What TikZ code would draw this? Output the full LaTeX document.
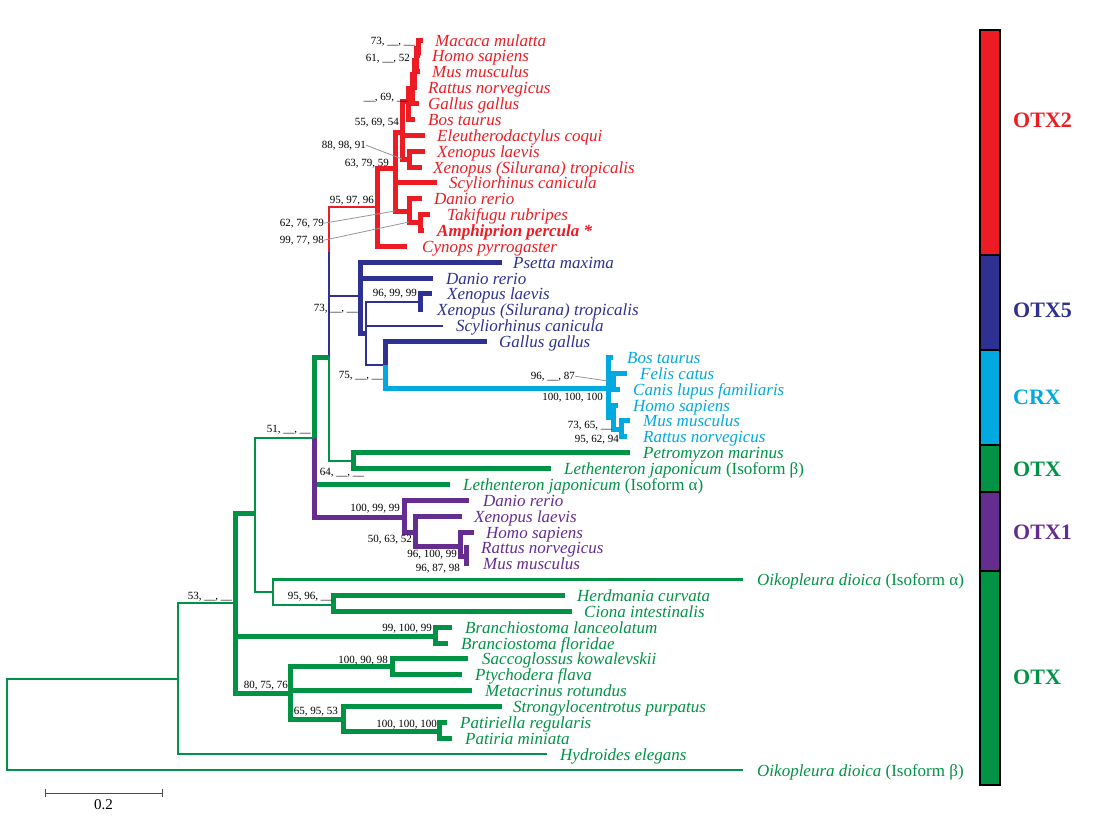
\documentclass[tikz,border=0pt]{standalone}
\usepackage{fontspec}
\setmainfont{Liberation Serif}
\definecolor{otxred}{RGB}{237,28,36}
\definecolor{otxblue}{RGB}{46,49,146}
\definecolor{crxcyan}{RGB}{0,169,224}
\definecolor{otxgreen}{RGB}{0,146,69}
\definecolor{otxpurple}{RGB}{102,45,145}
\definecolor{leadergray}{RGB}{150,150,150}
\tikzset{
  twig/.style={line width=2.4pt},
  bough/.style={line width=5pt},
  leaf/.style={anchor=base west, inner sep=0pt, font=\fontsize{17}{17}\selectfont\itshape},
  boot/.style={anchor=base east, inner sep=0pt, font=\fontsize{11}{11}\selectfont, black},
  leader/.style={leadergray, line width=0.8pt},
  grouplabel/.style={anchor=west, inner sep=0pt, font=\fontsize{22}{22}\selectfont\bfseries},
  groupbox/.style={draw=black, line width=2.5pt},
}

\begin{document}
\begin{tikzpicture}[x=1pt,y=-1pt]
  \useasboundingbox (0,0) rectangle (1115,827);

  % OTX2 (red)
  \coordinate (t-mac) at (423,40);
  \coordinate (t-hom) at (420,55.9);
  \coordinate (t-mus) at (420,71.7);
  \coordinate (t-rat) at (417,87.6);
  \coordinate (t-gal) at (419,103.5);
  \coordinate (t-bos) at (415,119.4);
  \coordinate (t-ele) at (425,135.2);
  \coordinate (t-xla) at (425,151.1);
  \coordinate (t-xtr) at (422,167);
  \coordinate (t-scy) at (437,182.8);
  \coordinate (t-dan) at (422,198.7);
  \coordinate (t-tak) at (430,214.6);
  \coordinate (t-amp) at (424,230.4);
  \coordinate (t-cyn) at (407,246.3);
  \coordinate (pm1) at (418,48);
  \coordinate (pm2) at (416,60);
  \coordinate (pm3) at (414,74);
  \coordinate (pm4) at (412,88);
  \coordinate (pm5) at (408,101);
  \coordinate (xen) at (409,159);
  \coordinate (tetra) at (402,132);
  \coordinate (fishA) at (420,222);
  \coordinate (fishB) at (409,211);
  \coordinate (gnath) at (395,168);
  \coordinate (r0) at (377,207);

  \draw [bough, otxred]
    (pm1) |- (t-mac) (pm1) |- (t-hom)
    (pm2) |- (pm1) (pm2) |- (t-mus)
    (pm3) |- (pm2) (pm3) |- (t-rat)
    (pm4) |- (pm3) (pm4) |- (t-gal)
    (pm5) |- (pm4) (pm5) |- (t-bos)
    (xen) |- (t-xla) (xen) |- (t-xtr)
    (tetra) |- (pm5) (tetra) |- (t-ele) (tetra) |- (xen)
    (fishA) |- (t-tak) (fishA) |- (t-amp)
    (fishB) |- (t-dan) (fishB) |- (fishA)
    (gnath) |- (tetra) (gnath) |- (t-scy) (gnath) |- (fishB)
    (r0) |- (gnath) (r0) |- (t-cyn);

  \node [leaf, otxred] (l-mac) at (435,46) {Macaca mulatta};
  \node [leaf, otxred] (l-hom) at (432,61.9) {Homo sapiens};
  \node [leaf, otxred] (l-mus) at (432,77.7) {Mus musculus};
  \node [leaf, otxred] (l-rat) at (428,93.6) {Rattus norvegicus};
  \node [leaf, otxred] (l-gal) at (428,109.5) {Gallus gallus};
  \node [leaf, otxred] (l-bos) at (428,125.4) {Bos taurus};
  \node [leaf, otxred] (l-ele) at (437,141.2) {Eleutherodactylus coqui};
  \node [leaf, otxred] (l-xla) at (437,157.1) {Xenopus laevis};
  \node [leaf, otxred] (l-xtr) at (433,173) {Xenopus (Silurana) tropicalis};
  \node [leaf, otxred] (l-scy) at (449,188.8) {Scyliorhinus canicula};
  \node [leaf, otxred] (l-dan) at (434,204.7) {Danio rerio};
  \node [leaf, otxred] (l-tak) at (447,220.6) {Takifugu rubripes};
  \node [leaf, otxred] (l-amp) at (437,236.4) {\bfseries Amphiprion percula *};
  \node [leaf, otxred] (l-cyn) at (422,252.3) {Cynops pyrrogaster};

  % OTX5 (blue)
  \coordinate (t-pse) at (502,262.2);
  \coordinate (t-bda) at (433,278.1);
  \coordinate (t-bxl) at (432,293.9);
  \coordinate (t-bxt) at (423,309.8);
  \coordinate (t-bsc) at (443,325.7);
  \coordinate (t-bga) at (487,341.5);
  \coordinate (n1) at (329,357);
  \coordinate (n1s) at (329,252);
  \coordinate (v1) at (360,296);
  \coordinate (v2) at (366,333);
  \coordinate (bx) at (420,302);
  \coordinate (gc) at (385,365);

  \draw [twig, otxred] (n1s) |- (r0);
  \draw [twig, otxblue] (n1s) -- (n1) (n1) |- (v1)
    (v2) |- (bx) (v2) |- (t-bsc) (v2) |- (gc);
  \draw [bough, otxblue] (v1) |- (t-pse) (v1) |- (t-bda) (v1) |- (v2)
    (bx) |- (t-bxl) (bx) |- (t-bxt) (gc) |- (t-bga);

  \node [leaf, otxblue] (l-pse) at (513,268.2) {Psetta maxima};
  \node [leaf, otxblue] (l-bda) at (446,284.1) {Danio rerio};
  \node [leaf, otxblue] (l-bxl) at (447,299.9) {Xenopus laevis};
  \node [leaf, otxblue] (l-bxt) at (437,315.8) {Xenopus (Silurana) tropicalis};
  \node [leaf, otxblue] (l-bsc) at (456,331.7) {Scyliorhinus canicula};
  \node [leaf, otxblue] (l-bga) at (499,347.5) {Gallus gallus};

  % CRX (cyan)
  \coordinate (t-cbo) at (613,357.4);
  \coordinate (t-cfe) at (627,373.3);
  \coordinate (t-cca) at (620,389.1);
  \coordinate (t-cho) at (618,405);
  \coordinate (t-cmu) at (630,420.9);
  \coordinate (t-cra) at (627,436.8);
  \coordinate (c1) at (608,388);
  \coordinate (c2) at (613,381);
  \coordinate (c3) at (613,417);
  \coordinate (c4) at (621,429);

  \draw [bough, crxcyan] (gc) |- (c1)
    (c1) |- (t-cbo) (c1) |- (c2) (c1) |- (c3)
    (c2) |- (t-cfe) (c2) |- (t-cca)
    (c3) |- (t-cho) (c3) |- (c4)
    (c4) |- (t-cmu) (c4) |- (t-cra);

  \node [leaf, crxcyan] (l-cbo) at (627,363.4) {Bos taurus};
  \node [leaf, crxcyan] (l-cfe) at (640,379.3) {Felis catus};
  \node [leaf, crxcyan] (l-cca) at (633,395.1) {Canis lupus familiaris};
  \node [leaf, crxcyan] (l-cho) at (633,411) {Homo sapiens};
  \node [leaf, crxcyan] (l-cmu) at (643,426.9) {Mus musculus};
  \node [leaf, crxcyan] (l-cra) at (643,442.8) {Rattus norvegicus};

  % lampreys and OTX1 (purple)
  \coordinate (t-pet) at (630,452.6);
  \coordinate (t-leb) at (551,468.5);
  \coordinate (t-lea) at (450,484.4);
  \coordinate (lam) at (353,461);
  \coordinate (n0) at (314,438);
  \coordinate (t-pda) at (469,500.2);
  \coordinate (t-pxl) at (462,516.1);
  \coordinate (t-pho) at (474,532);
  \coordinate (t-pra) at (469,547.8);
  \coordinate (t-pmu) at (469,563.7);
  \coordinate (o1) at (404,517);
  \coordinate (o2) at (415,532);
  \coordinate (o3) at (460,546);
  \coordinate (o4) at (466,556);

  \draw [twig, otxgreen] (n1) |- (lam);
  \draw [bough, otxgreen] (lam) |- (t-pet) (lam) |- (t-leb)
    (n0) |- (n1) (n0 |- t-lea) -- (t-lea);
  \draw [bough, otxpurple] (n0) |- (o1)
    (o1) |- (t-pda) (o1) |- (o2)
    (o2) |- (t-pxl) (o2) |- (o3)
    (o3) |- (t-pho) (o3) |- (o4)
    (o4) |- (t-pra) (o4) |- (t-pmu);

  \node [leaf, otxgreen] (l-pet) at (643,458.6) {Petromyzon marinus};
  \node [leaf, otxgreen] (l-leb) at (564,474.5) {Lethenteron japonicum \textup{(Isoform β)}};
  \node [leaf, otxgreen] (l-lea) at (463,490.4) {Lethenteron japonicum \textup{(Isoform α)}};
  \node [leaf, otxpurple] (l-pda) at (483,506.2) {Danio rerio};
  \node [leaf, otxpurple] (l-pxl) at (474,522.1) {Xenopus laevis};
  \node [leaf, otxpurple] (l-pho) at (486,538) {Homo sapiens};
  \node [leaf, otxpurple] (l-pra) at (481,553.8) {Rattus norvegicus};
  \node [leaf, otxpurple] (l-pmu) at (483,569.7) {Mus musculus};

  % invertebrate OTX (green)
  \coordinate (root) at (7,724);
  \coordinate (n178) at (178,679);
  \coordinate (n234) at (235,603);
  \coordinate (n256) at (255,513);
  \coordinate (n273) at (273,592);
  \coordinate (hc) at (333,605);
  \coordinate (bc) at (435,636);
  \coordinate (e80) at (290,693);
  \coordinate (sp) at (392,666);
  \coordinate (sq) at (343,719);
  \coordinate (pt) at (439,731);
  \coordinate (t-oia) at (743,579.6);
  \coordinate (t-her) at (565,595.5);
  \coordinate (t-cio) at (572,611.3);
  \coordinate (t-bla) at (452,627.2);
  \coordinate (t-bfl) at (448,643.1);
  \coordinate (t-sac) at (468,658.9);
  \coordinate (t-pty) at (462,674.8);
  \coordinate (t-met) at (472,690.7);
  \coordinate (t-str) at (502,706.5);
  \coordinate (t-pre) at (447,722.4);
  \coordinate (t-pmi) at (452,738.3);
  \coordinate (t-hyd) at (547,754.2);
  \coordinate (t-oib) at (743,770);

  \draw [twig, otxgreen] (root) |- (n178) (root) |- (t-oib)
    (n178) |- (n234) (n178) |- (t-hyd)
    (n256) |- (n0) (n256) |- (n273)
    (n273) |- (t-oia) (n273) |- (hc);
  \draw [bough, otxgreen] (n234) |- (n256) (n234) |- (bc) (n234) |- (e80)
    (hc) |- (t-her) (hc) |- (t-cio)
    (bc) |- (t-bla) (bc) |- (t-bfl)
    (e80) |- (sp) (e80) |- (t-met) (e80) |- (sq)
    (sp) |- (t-sac) (sp) |- (t-pty)
    (sq) |- (t-str) (sq) |- (pt)
    (pt) |- (t-pre) (pt) |- (t-pmi);

  \node [leaf, otxgreen] (l-oia) at (757,585.6) {Oikopleura dioica \textup{(Isoform α)}};
  \node [leaf, otxgreen] (l-her) at (577,601.5) {Herdmania curvata};
  \node [leaf, otxgreen] (l-cio) at (584,617.3) {Ciona intestinalis};
  \node [leaf, otxgreen] (l-bla) at (465,633.2) {Branchiostoma lanceolatum};
  \node [leaf, otxgreen] (l-bfl) at (461,649.1) {Branciostoma floridae};
  \node [leaf, otxgreen] (l-sac) at (482,664.9) {Saccoglossus kowalevskii};
  \node [leaf, otxgreen] (l-pty) at (475,680.8) {Ptychodera flava};
  \node [leaf, otxgreen] (l-met) at (485,696.7) {Metacrinus rotundus};
  \node [leaf, otxgreen] (l-str) at (513,712.5) {Strongylocentrotus purpatus};
  \node [leaf, otxgreen] (l-pre) at (460,728.4) {Patiriella regularis};
  \node [leaf, otxgreen] (l-pmi) at (465,744.3) {Patiria miniata};
  \node [leaf, otxgreen] (l-hyd) at (560,760.2) {Hydroides elegans};
  \node [leaf, otxgreen] (l-oib) at (757,776) {Oikopleura dioica \textup{(Isoform β)}};

  % support values
  \node [boot] (b-73a) at (415,44) {73, \_\_, \_\_};
  \node [boot] (b-61) at (410,61) {61, \_\_, 52};
  \node [boot] (b-69) at (408,100) {\_\_, 69, \_\_};
  \node [boot] (b-55) at (399,125) {55, 69, 54};
  \node [boot] (b-88) at (366,148) {88, 98, 91};
  \node [boot] (b-63) at (389,166) {63, 79, 59};
  \node [boot] (b-95) at (374,203) {95, 97, 96};
  \node [boot] (b-62) at (324,226) {62, 76, 79};
  \node [boot] (b-99) at (324,243) {99, 77, 98};
  \node [boot] (b-73b) at (358,311) {73, \_\_, \_\_};
  \node [boot] (b-96a) at (417,296) {96, 99, 99};
  \node [boot] (b-75) at (383,378) {75, \_\_, \_\_};
  \node [boot] (b-96b) at (575,379) {96, \_\_, 87};
  \node [boot] (b-100a) at (603,400) {100, 100, 100};
  \node [boot] (b-73c) at (612,428) {73, 65, \_\_};
  \node [boot] (b-95b) at (619,442) {95, 62, 94};
  \node [boot] (b-51) at (311,432) {51, \_\_, \_\_};
  \node [boot] (b-64) at (364,475) {64, \_\_, \_\_};
  \node [boot] (b-100b) at (400,511) {100, 99, 99};
  \node [boot] (b-50) at (412,542) {50, 63, 52};
  \node [boot] (b-96c) at (457,557) {96, 100, 99};
  \node [boot] (b-96d) at (460,571) {96, 87, 98};
  \node [boot] (b-53) at (232,599) {53, \_\_, \_\_};
  \node [boot] (b-95c) at (332,599) {95, 96, \_\_};
  \node [boot] (b-99b) at (432,631) {99, 100, 99};
  \node [boot] (b-100c) at (388,663) {100, 90, 98};
  \node [boot] (b-80) at (288,688) {80, 75, 76};
  \node [boot] (b-65) at (338,714) {65, 95, 53};
  \node [boot] (b-100d) at (437,727) {100, 100, 100};

  \draw [leader] (b-88.east) -- (tetra |- xen);
  \draw [leader] (b-62.east) -- (gnath |- fishB);
  \draw [leader] (b-99.east) -- (fishB |- fishA);
  \draw [leader] (b-96b.east) -- (c1 |- c2);

  % group bar
  \draw [groupbox, fill=otxred] (980,30) rectangle (1000,255);
  \draw [groupbox, fill=otxblue] (980,255) rectangle (1000,350);
  \draw [groupbox, fill=crxcyan] (980,350) rectangle (1000,445);
  \draw [groupbox, fill=otxgreen] (980,445) rectangle (1000,492);
  \draw [groupbox, fill=otxpurple] (980,492) rectangle (1000,571);
  \draw [groupbox, fill=otxgreen] (980,571) rectangle (1000,785);

  \node [grouplabel, otxred] (g-otx2) at (1013,120) {OTX2};
  \node [grouplabel, otxblue] (g-otx5) at (1013,310) {OTX5};
  \node [grouplabel, crxcyan] (g-crx) at (1013,397) {CRX};
  \node [grouplabel, otxgreen] (g-otxa) at (1013,469) {OTX};
  \node [grouplabel, otxpurple] (g-otx1) at (1013,532) {OTX1};
  \node [grouplabel, otxgreen] (g-otxb) at (1013,677) {OTX};

  % scale
  \coordinate (sb-l) at (45,793);
  \coordinate (sb-r) at (162,793);
  \draw [black!70, line width=1pt] (sb-l) -- (sb-r)
    ([yshift=4pt]sb-l) -- ([yshift=-4pt]sb-l)
    ([yshift=4pt]sb-r) -- ([yshift=-4pt]sb-r);
  \node [anchor=north, inner sep=0pt, font=\fontsize{15}{15}\selectfont] (sb-lab) at (103.5,799) {0.2};
\end{tikzpicture}
\end{document}
